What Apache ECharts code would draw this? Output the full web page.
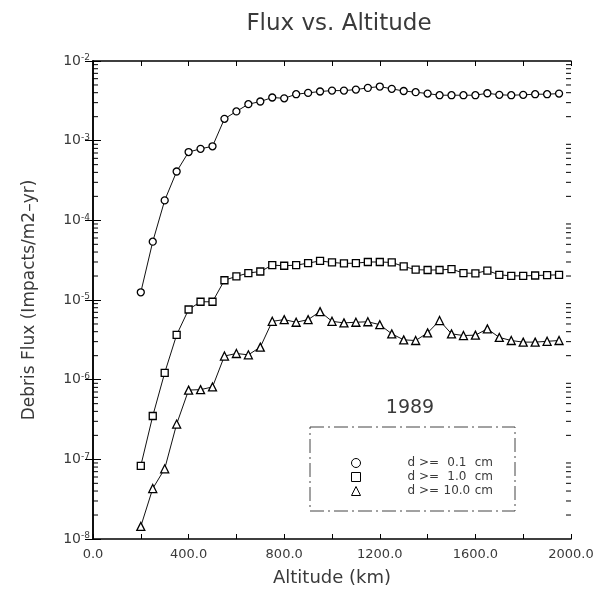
<!DOCTYPE html>
<html>
<head>
<meta charset="utf-8">
<script src="https://cdn.jsdelivr.net/npm/echarts@6/dist/echarts.min.js"></script>
<style>
  html, body { margin: 0; padding: 0; background: #fff; }
  #chart { width: 598px; height: 592px; }
</style>
</head>
<body>
<div id="chart"></div>
<script>
// altitude (km), 50 km steps
const altitude = [200, 250, 300, 350, 400, 450, 500, 550, 600, 650, 700, 750, 800, 850, 900, 950,
  1000, 1050, 1100, 1150, 1200, 1250, 1300, 1350, 1400, 1450, 1500, 1550, 1600, 1650, 1700,
  1750, 1800, 1850, 1900, 1950]

// d >= 0.1 cm
const flux01 = [1.25e-5, 5.4e-5, 1.78e-4, 4.1e-4, 7.2e-4, 7.9e-4, 8.5e-4, 1.88e-3, 2.33e-3, 2.87e-3,
  3.1e-3, 3.48e-3, 3.4e-3, 3.83e-3, 3.98e-3, 4.14e-3, 4.25e-3, 4.25e-3, 4.38e-3, 4.6e-3,
  4.78e-3, 4.47e-3, 4.2e-3, 4.06e-3, 3.9e-3, 3.72e-3, 3.72e-3, 3.72e-3, 3.72e-3, 3.94e-3,
  3.76e-3, 3.72e-3, 3.76e-3, 3.83e-3, 3.83e-3, 3.9e-3]
// d >= 1.0 cm
const flux1 = [8.3e-8, 3.5e-7, 1.22e-6, 3.65e-6, 7.6e-6, 9.5e-6, 9.5e-6, 1.77e-5, 1.98e-5, 2.18e-5,
  2.28e-5, 2.74e-5, 2.69e-5, 2.74e-5, 2.9e-5, 3.1e-5, 2.96e-5, 2.88e-5, 2.9e-5, 3.0e-5,
  3.0e-5, 2.96e-5, 2.64e-5, 2.4e-5, 2.38e-5, 2.38e-5, 2.44e-5, 2.18e-5, 2.16e-5, 2.34e-5,
  2.07e-5, 2.01e-5, 2.01e-5, 2.03e-5, 2.05e-5, 2.07e-5]
// d >= 10.0 cm
const flux10 = [1.44e-8, 4.3e-8, 7.6e-8, 2.77e-7, 7.4e-7, 7.5e-7, 8.1e-7, 1.98e-6, 2.13e-6, 2.05e-6,
  2.56e-6, 5.4e-6, 5.67e-6, 5.26e-6, 5.67e-6, 7.15e-6, 5.4e-6, 5.16e-6, 5.26e-6, 5.33e-6,
  4.9e-6, 3.76e-6, 3.16e-6, 3.1e-6, 3.87e-6, 5.52e-6, 3.76e-6, 3.58e-6, 3.62e-6, 4.34e-6,
  3.39e-6, 3.1e-6, 2.96e-6, 2.96e-6, 3.03e-6, 3.1e-6]

const names = ['d >=  0.1 cm', 'd >=  1.0 cm', 'd >= 10.0 cm']
const symbols = ['circle', 'rect', 'triangle']
const sizes = ['0.1', '1.0', '10.0']

// log-spaced minor ticks for the y axis (decoration only)
const minorTicks = []
for (let e = -8; e < -2; e++) {
  for (let m = 2; m <= 9; m++) minorTicks.push([0, m * Math.pow(10, e)])
}

const font = 'DejaVu Sans'
const ink = '#3a3a3a'

const mkSeries = (name, data, symbol) => ({
  name,
  type: 'line',
  data: altitude.map((a, i) => [a, data[i]]),
  symbol,
  symbolSize: symbol === 'triangle' ? 8 : 7,
  lineStyle: { color: '#111', width: 1 },
  itemStyle: { color: '#fff', borderColor: '#000', borderWidth: 1.3 },
  emphasis: { disabled: true },
  z: 3
})

const chart = echarts.init(document.getElementById('chart'))

chart.setOption({
  backgroundColor: '#fff',
  animation: false,
  textStyle: { fontFamily: font },
  title: {
    text: 'Flux vs. Altitude',
    left: 334,
    textAlign: 'center',
    top: 8,
    textStyle: { fontFamily: font, fontSize: 23, fontWeight: 'normal', color: ink }
  },
  grid: { left: 93, right: 27, top: 61, bottom: 50 },
  legend: {
    orient: 'vertical',
    left: 346,
    top: 452,
    itemWidth: 9,
    itemHeight: 9,
    itemGap: 2,
    selectedMode: false,
    textStyle: {
      fontFamily: font, fontSize: 12, color: ink, padding: [0, 0, 0, 42], lineHeight: 11,
      rich: { v: { width: 28, align: 'right', fontSize: 12, lineHeight: 11, color: ink, fontFamily: font } }
    },
    formatter: n => 'd >= {v|' + sizes[names.indexOf(n)] + '} cm',
    data: names.map((n, i) => ({
      name: n,
      icon: symbols[i],
      itemStyle: { color: '#fff', borderColor: '#000', borderWidth: 1 }
    }))
  },
  graphic: [
    {
      type: 'rect',
      shape: { x: 310, y: 427, width: 205, height: 84 },
      style: { fill: 'none', stroke: '#444', lineWidth: 1, lineDash: [14, 4, 2, 4] }
    },
    {
      type: 'text',
      x: 410, y: 408,
      style: { text: '1989', fontFamily: font, fontSize: 19, fill: ink, align: 'center', verticalAlign: 'middle' }
    }
  ],
  xAxis: [{
    type: 'value',
    min: 0, max: 2000, interval: 200,
    name: 'Altitude (km)',
    nameLocation: 'middle',
    nameGap: 30,
    nameTextStyle: { fontFamily: font, fontSize: 18, color: ink },
    axisLine: { lineStyle: { color: '#000', width: 1.5 } },
    axisTick: { inside: true, length: 5, lineStyle: { color: '#000' } },
    axisLabel: {
      margin: 9, fontSize: 13, color: ink, fontFamily: font,
      formatter: v => (v % 400 === 0 ? v.toFixed(1) : '')
    },
    splitLine: { show: false }
  }, {
    type: 'value',
    position: 'top',
    min: 0, max: 2000, interval: 200,
    axisLine: { lineStyle: { color: '#000', width: 1.5 } },
    axisTick: { inside: true, length: 5, lineStyle: { color: '#000' } },
    axisLabel: { show: false },
    splitLine: { show: false }
  }],
  yAxis: [{
    type: 'log',
    logBase: 10,
    min: 1e-8, max: 1e-2,
    name: 'Debris Flux (Impacts/m2\u2013yr)',
    nameLocation: 'middle',
    nameGap: 55,
    nameTextStyle: { fontFamily: font, fontSize: 17, color: ink },
    axisLine: { lineStyle: { color: '#000', width: 1.5 } },
    axisTick: { inside: true, length: 8, lineStyle: { color: '#000' } },
    axisLabel: {
      margin: 3, color: ink, fontFamily: font,
      formatter: v => '{b|10}{s|' + Math.round(Math.log10(v)) + '}',
      rich: {
        b: { fontSize: 14, lineHeight: 15, color: ink, fontFamily: font },
        s: { fontSize: 9, lineHeight: 15, verticalAlign: 'top', color: ink, fontFamily: font }
      }
    },
    splitLine: { show: false }
  }, {
    type: 'log',
    logBase: 10,
    position: 'right',
    min: 1e-8, max: 1e-2,
    axisLine: { lineStyle: { color: '#000', width: 1.5 } },
    axisTick: { inside: true, length: 8, lineStyle: { color: '#000' } },
    axisLabel: { show: false },
    splitLine: { show: false }
  }],
  series: [
    mkSeries(names[0], flux01, symbols[0]),
    mkSeries(names[1], flux1, symbols[1]),
    mkSeries(names[2], flux10, symbols[2]),
    {
      type: 'custom',
      silent: true,
      data: minorTicks,
      encode: { x: 0, y: 1 },
      renderItem: (params, api) => {
        const v = api.value(1)
        const l = api.coord([0, v])
        const r = api.coord([2000, v])
        return {
          type: 'group',
          children: [
            { type: 'line', shape: { x1: l[0], y1: l[1], x2: l[0] + 5, y2: l[1] }, style: { stroke: '#000', lineWidth: 1 } },
            { type: 'line', shape: { x1: r[0] - 5, y1: r[1], x2: r[0], y2: r[1] }, style: { stroke: '#000', lineWidth: 1 } }
          ]
        }
      }
    }
  ]
})
</script>
</body>
</html>
